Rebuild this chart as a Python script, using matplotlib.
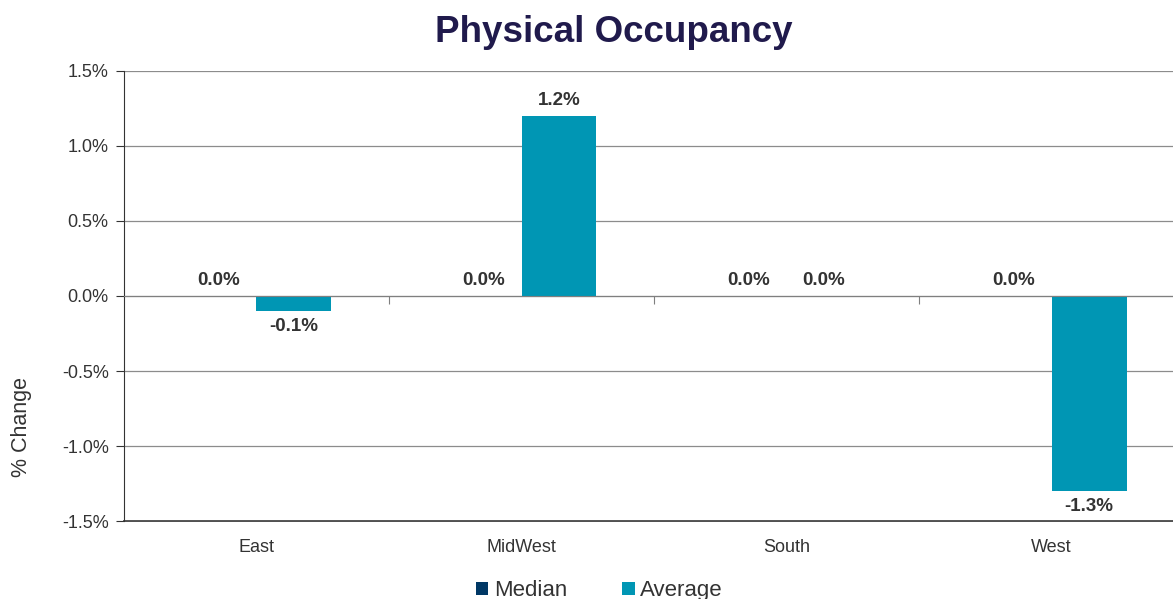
import matplotlib
matplotlib.use('Agg')

import numpy as np
import matplotlib.pyplot as plt
from matplotlib.ticker import FuncFormatter

regions = ['East', 'MidWest', 'South', 'West']
median = [0.0, 0.0, 0.0, 0.0]
average = [-0.1, 1.2, 0.0, -1.3]

plt.rcParams['font.family'] = ['Liberation Sans', 'DejaVu Sans']

median_color = '#003865'
average_color = '#0096B4'
text_color = '#333333'


def main():
    fig = plt.figure(figsize=(11.73, 5.99), dpi=100)
    ax = fig.add_axes([0.1057, 0.1302, 0.9037, 0.7513])

    x = np.arange(len(regions))
    w = 0.283
    b1 = ax.bar(x - w / 2, median, w, color=median_color, label='Median')
    b2 = ax.bar(x + w / 2, average, w, color=average_color, label='Average')

    for bars in (b1, b2):
        ax.bar_label(bars, labels=[f'{v:.1f}%' for v in bars.datavalues],
                     padding=5, fontsize=13.5, fontweight='bold', color=text_color)

    ax.set_xlim(-0.5, len(regions) - 0.5)
    ax.set_ylim(-1.5, 1.5)
    ax.set_yticks(np.arange(-1.5, 1.51, 0.5))
    ax.yaxis.set_major_formatter(FuncFormatter(lambda v, p: f'{v:.1f}%'))
    ax.yaxis.grid(True, color='#8c8c8c', linewidth=0.9)
    ax.set_axisbelow(True)
    ax.tick_params(axis='y', labelsize=13, labelcolor=text_color, length=6,
                   color='#333333', pad=5)

    # zero axis with tick marks between categories
    ax.spines['bottom'].set_position(('data', 0))
    ax.spines['bottom'].set_color('#7f7f7f')
    ax.set_xticks(np.arange(0.5, len(regions) - 0.5, 1.0))
    ax.set_xticklabels([])
    ax.tick_params(axis='x', length=6, color='#7f7f7f')

    ax.spines['top'].set_visible(False)
    ax.spines['right'].set_visible(False)
    ax.spines['left'].set_color('#333333')

    # category labels along the bottom edge
    sec = ax.secondary_xaxis(0.0)
    sec.set_xticks(x)
    sec.set_xticklabels(regions)
    sec.tick_params(length=0, labelsize=13, labelcolor=text_color, pad=13)
    sec.spines['bottom'].set_color('#404040')
    sec.spines['bottom'].set_linewidth(1.3)

    ax.set_ylabel('% Change', fontsize=15.5, color=text_color)
    ax.yaxis.set_label_coords(-0.087, 0.21)

    fig.suptitle('Physical Occupancy', x=0.523, y=0.975, fontsize=26.5,
                 fontweight='bold', color='#201A4C')

    fig.legend(handles=[b1, b2], loc='lower center', bbox_to_anchor=(0.511, -0.037),
               ncol=2, frameon=False, fontsize=16, handlelength=0.55,
               handleheight=0.55, handletextpad=0.25, columnspacing=2.5,
               labelcolor=text_color)

    fig.savefig('out.png', dpi=100)


main()
